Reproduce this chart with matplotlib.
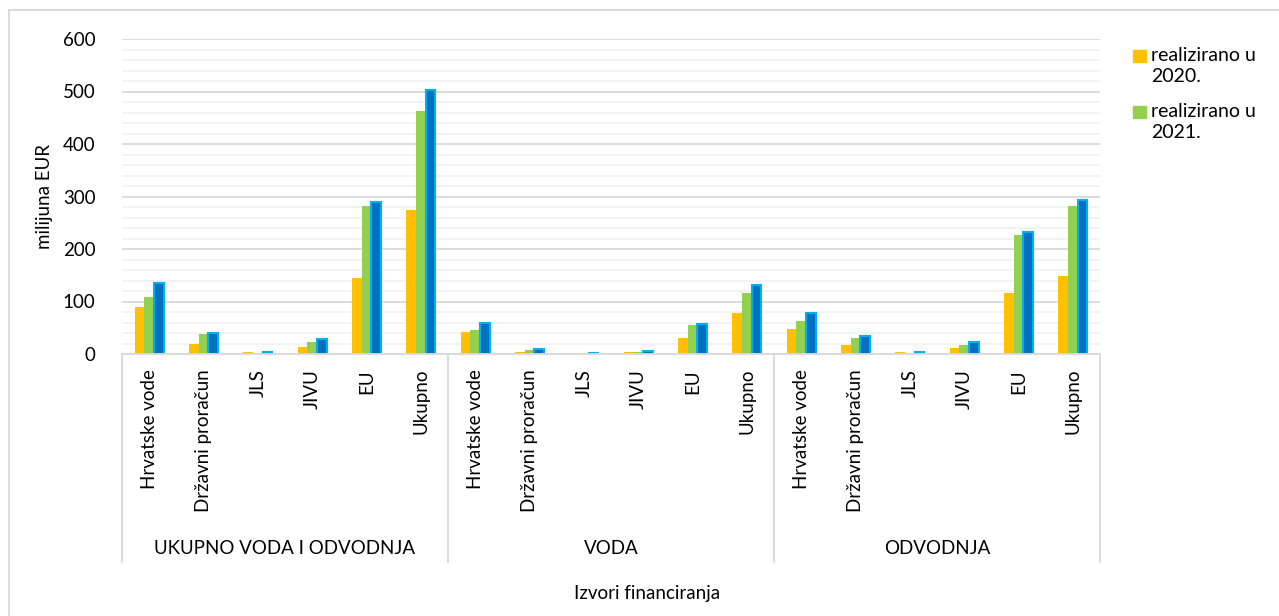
import matplotlib.pyplot as plt
import matplotlib.patches as patches
from matplotlib.lines import Line2D
import numpy as np

plt.rcParams['font.family'] = ['Lato', 'DejaVu Sans']

grupe = ['UKUPNO VODA I ODVODNJA', 'VODA', 'ODVODNJA']
izvori = ['Hrvatske vode', 'Državni proračun', 'JLS', 'JIVU', 'EU', 'Ukupno']

# vrijednosti u milijunima EUR, po grupama redom
real_2020 = [89, 20, 3, 13, 144, 274,
             42, 4.5, 1, 3, 30, 79,
             48, 17, 3, 11, 116, 148]
real_2021 = [108, 38, 1, 22, 282, 462,
             46, 7, 0.5, 4, 55, 117,
             62, 31, 2, 18, 226, 281]
treca = [135, 40, 3, 28, 290, 502,
         59, 9.5, 1, 6, 58, 132,
         78, 34, 3, 23, 233, 293]

W, H = 1279, 616
fs = 13.5
fig = plt.figure(figsize=(W / 100, H / 100), dpi=100)

x0, x1, y0, y1 = 122, 1100, 39, 354
ax = fig.add_axes([x0 / W, 1 - y1 / H, (x1 - x0) / W, (y1 - y0) / H])

n = len(real_2020)
x = np.arange(n)
w = 0.177
ax.bar(x - w, real_2020, w, color='#FFC000', zorder=3)
ax.bar(x, real_2021, w, color='#92D050', zorder=3)
ax.bar(x + w, treca, w, color='#0070C0', edgecolor='#00B0F0', linewidth=1.5, zorder=3)

ax.set_xlim(-0.5, n - 0.5)
ax.set_ylim(0, 600)
ax.set_yticks(range(0, 601, 100))
ax.set_yticks(range(0, 601, 20), minor=True)
ax.grid(axis='y', which='major', color='#D9D9D9', linewidth=1.3, zorder=0)
ax.grid(axis='y', which='minor', color='#F2F2F2', linewidth=1.3, zorder=0)
ax.tick_params(axis='y', which='both', length=0, pad=19, labelsize=fs, labelcolor='#000000')
ax.tick_params(axis='x', length=0, labelbottom=False)
for s in ['left', 'right', 'top']:
    ax.spines[s].set_visible(False)
ax.spines['bottom'].set_color('#D9D9D9')
ax.spines['bottom'].set_linewidth(1.3)
ax.spines['bottom'].set_zorder(4)

# kategorije (okomito) i grupe
h_ax = y1 - y0
for i in range(n):
    ax.text(x[i], -(369 - y1) / h_ax, izvori[i % len(izvori)], rotation=90,
            ha='center', va='top', fontsize=fs, transform=ax.get_xaxis_transform())
for g, naziv in enumerate(grupe):
    sred = g * len(izvori) + (len(izvori) - 1) / 2
    ax.text(sred, -(548 - y1) / h_ax, naziv, ha='center', va='center',
            fontsize=fs, transform=ax.get_xaxis_transform())
for g in range(len(grupe) + 1):
    xs = g * len(izvori) - 0.5
    ax.add_line(Line2D([xs, xs], [0, -(562 - y1) / h_ax], color='#D9D9D9', linewidth=1.3,
                       transform=ax.get_xaxis_transform(), clip_on=False))

ax.set_ylabel('milijuna EUR', fontsize=fs)
ax.yaxis.set_label_coords((53 - x0) / (x1 - x0), 0.5)
fig.text(647 / W, 1 - 593 / H, 'Izvori financiranja', ha='center', va='center', fontsize=fs)

# legenda
for k, (boja, tekst) in enumerate([('#FFC000', 'realizirano u\n2020.'),
                                    ('#92D050', 'realizirano u\n2021.')]):
    yt = 50 + k * 56
    fig.patches.append(patches.Rectangle((1133 / W, 1 - (yt + 12) / H), 13 / W, 12 / H,
                                         color=boja, transform=fig.transFigure))
    fig.text(1151 / W, 1 - (yt - 3) / H, tekst, ha='left', va='top', fontsize=14,
             linespacing=1.3)

# okvir
fig.add_artist(Line2D([9 / W, 9 / W], [0, 1 - 10 / H], color='#D9D9D9', linewidth=1.3,
                      transform=fig.transFigure))
fig.add_artist(Line2D([9 / W, 1], [1 - 10 / H, 1 - 10 / H], color='#D9D9D9', linewidth=1.3,
                      transform=fig.transFigure))

fig.savefig('out.png', dpi=100)
